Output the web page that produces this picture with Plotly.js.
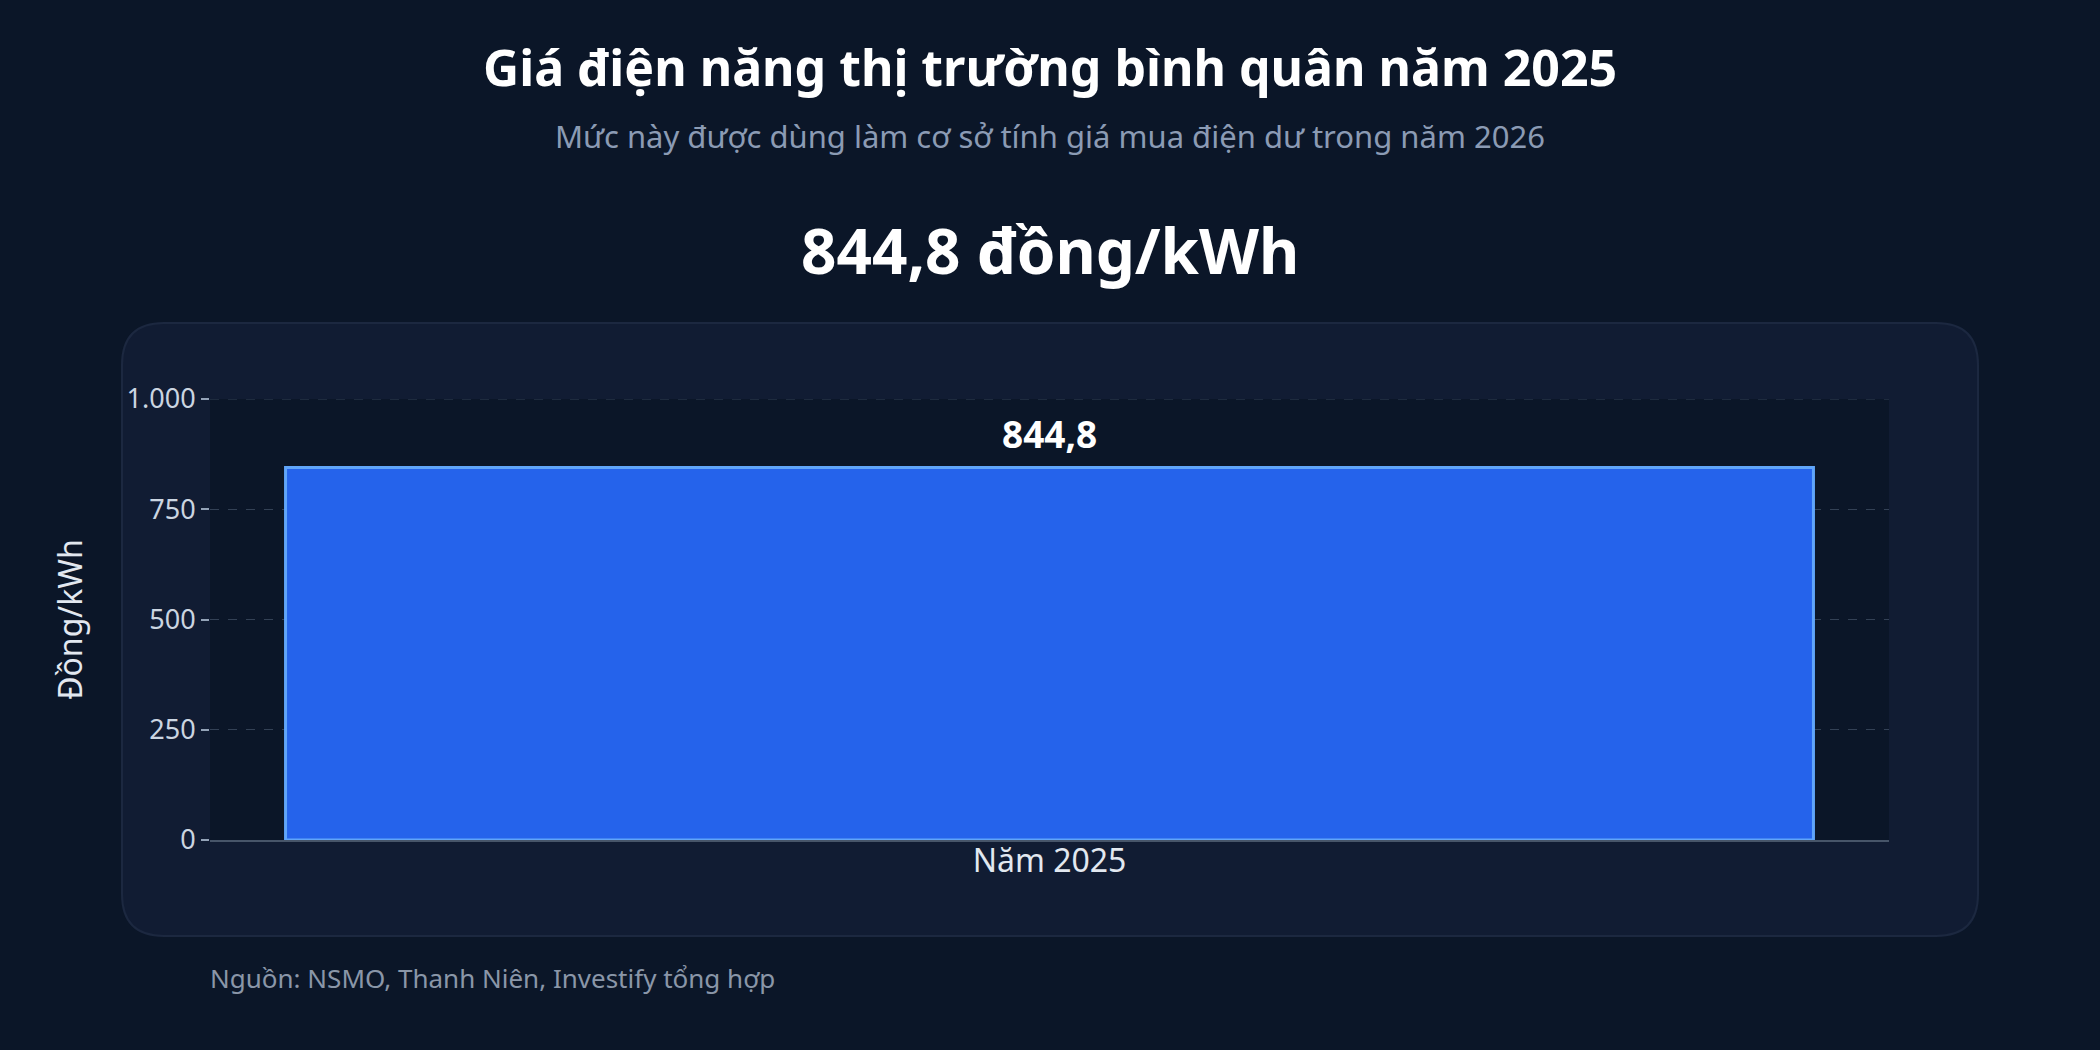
<!DOCTYPE html>
<html>
<head>
<meta charset="utf-8">
<script src="https://cdn.plot.ly/plotly-3.0.1.min.js"></script>
<style>
  html, body { margin: 0; padding: 0; background: #0b1628; }
  #chart { width: 2100px; height: 1050px; }
</style>
</head>
<body>
<div id="chart"></div>
<script>
// du lieu
const categories = ["Năm 2025"];
const prices = [844.8];
const yTicks = [0, 250, 500, 750, 1000];

const titleText = "Giá điện năng thị trường bình quân năm 2025";
const subtitleText = "Mức này được dùng làm cơ sở tính giá mua điện dư trong năm 2026";
const headlineText = "844,8 đồng/kWh";
const sourceText = "Nguồn: NSMO, Thanh Niên, Investify tổng hợp";

const W = 2100, H = 1050;
const margin = { l: 210, r: 211, t: 399, b: 210 };
const plotW = W - margin.l - margin.r;
const plotH = H - margin.t - margin.b;

// pixel -> paper
const px = x => (x - margin.l) / plotW;
const py = y => (H - margin.b - y) / plotH;

function roundedRect(x0, y0, x1, y1, r) {
    const rx = r / plotW, ry = r / plotH;
    const a = px(x0), b = px(x1), top = py(y0), bot = py(y1);
    return `M ${a + rx},${top} L ${b - rx},${top} Q ${b},${top} ${b},${top - ry} ` +
           `L ${b},${bot + ry} Q ${b},${bot} ${b - rx},${bot} ` +
           `L ${a + rx},${bot} Q ${a},${bot} ${a},${bot + ry} ` +
           `L ${a},${top - ry} Q ${a},${top} ${a + rx},${top} Z`;
}

const font = "Noto Sans, Open Sans, sans-serif";
const gridColor = "#334155";
const yMax = yTicks[yTicks.length - 1];

const trace = {
    type: "bar",
    x: categories,
    y: prices,
    marker: { color: "#2563eb", line: { color: "#60a5fa", width: 3 } },
    hoverinfo: "skip"
};

const layout = {
    width: W,
    height: H,
    margin: margin,
    paper_bgcolor: "#0b1628",
    plot_bgcolor: "#0b1628",
    separators: ",.",
    font: { family: font, color: "#cbd5e1" },
    showlegend: false,
    bargap: 0.09,
    xaxis: {
        showgrid: false,
        showline: true,
        linecolor: "#475569",
        linewidth: 2,
        ticks: "",
        ticklabelstandoff: -8,
        tickfont: { size: 32, color: "#e2e8f0" },
        fixedrange: true
    },
    yaxis: {
        range: [0, yMax],
        tickvals: yTicks,
        tickformat: ",",
        ticks: "outside",
        ticklen: 8,
        tickwidth: 2,
        tickcolor: "#94a3b8",
        tickfont: { size: 27, color: "#cbd5e1" },
        gridcolor: gridColor,
        griddash: "dash",
        gridwidth: 1,
        zeroline: false,
        title: { text: "Đồng/kWh", font: { size: 32, color: "#e2e8f0" }, standoff: 34 },
        fixedrange: true
    },
    shapes: [
        {
            type: "path", xref: "paper", yref: "paper", layer: "below",
            path: roundedRect(122, 323, 1978, 936, 42),
            fillcolor: "#111c33",
            line: { color: "#1c2840", width: 2 }
        },
        {
            type: "rect", xref: "paper", yref: "paper", layer: "below",
            x0: 0, x1: 1, y0: 0, y1: 1,
            fillcolor: "#0b1628",
            line: { width: 0 }
        },
        // plotly bo duong luoi o mep tren, ve lai
        {
            type: "line", xref: "paper", yref: "y", layer: "below",
            x0: 0, x1: 1, y0: yMax, y1: yMax,
            line: { color: gridColor, width: 1, dash: "dash" }
        }
    ],
    annotations: [
        {
            text: "<b>" + titleText + "</b>", xref: "paper", yref: "paper",
            x: px(W / 2), y: py(67), xanchor: "center", yanchor: "middle",
            showarrow: false, font: { size: 50, color: "#ffffff" }
        },
        {
            text: subtitleText, xref: "paper", yref: "paper",
            x: px(W / 2), y: py(136), xanchor: "center", yanchor: "middle",
            showarrow: false, font: { size: 31, color: "#8b9bb4" }
        },
        {
            text: "<b>" + headlineText + "</b>", xref: "paper", yref: "paper",
            x: px(W / 2), y: py(250), xanchor: "center", yanchor: "middle",
            showarrow: false, font: { size: 62, color: "#ffffff" }
        },
        {
            text: sourceText, xref: "paper", yref: "paper",
            x: px(208), y: py(978), xanchor: "left", yanchor: "middle",
            showarrow: false, font: { size: 26, color: "#8a96a8" }
        }
    ].concat(categories.map((c, i) => ({
        text: "<b>" + prices[i].toFixed(1).replace(".", ",") + "</b>",
        x: c, y: prices[i], xref: "x", yref: "y",
        xanchor: "center", yanchor: "bottom", yshift: 6,
        showarrow: false, font: { size: 37, color: "#ffffff" }
    })))
};

Plotly.newPlot("chart", [trace], layout, { displayModeBar: false, staticPlot: true });
</script>
</body>
</html>
